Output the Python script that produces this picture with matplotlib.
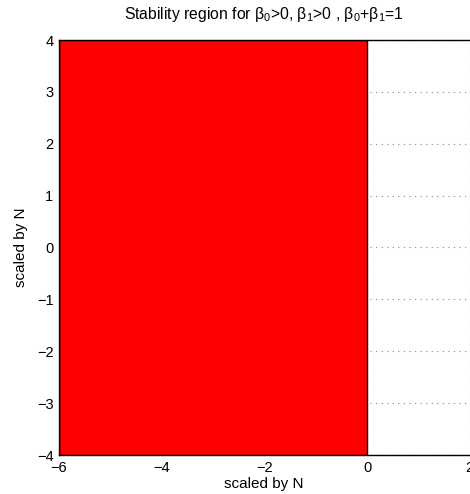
import matplotlib
matplotlib.use("Agg")
import matplotlib.pyplot as plt

plt.rcParams['font.family'] = ['Liberation Sans', 'DejaVu Sans']
plt.rcParams['mathtext.fontset'] = 'custom'
plt.rcParams['mathtext.rm'] = 'Liberation Sans'
plt.rcParams['mathtext.it'] = 'Liberation Sans'
plt.rcParams['mathtext.default'] = 'rm'

# Data
region_x = [-6, 0, 0, -6]
region_y = [-4, -4, 4, 4]
x_ticks = [-6, -4, -2, 0, 2, 4]
y_ticks = [-4, -3, -2, -1, 0, 1, 2, 3, 4]
title = r'Stability region for $\beta_0$>0, $\beta_1$>0 , $\beta_0$+$\beta_1$=1'
xlabel = 'scaled by N'
ylabel = 'scaled by N'

W, H = 470, 494
fig = plt.figure(figsize=(W / 100, H / 100), dpi=100)
left, top, bottom = 59, 40, 455
ppu = (367 - 59) / 6.0
xmax = 4
right = 59 + ppu * (xmax + 6)
ax = fig.add_axes([left / W, (H - bottom) / H, (right - left) / W, (bottom - top) / H])

ax.fill(region_x, region_y, facecolor='#ff0000', edgecolor='black', linewidth=1.0, zorder=2)
ax.set_xlim(-6, xmax)
ax.set_ylim(-4, 4)
ax.set_xticks(x_ticks)
ax.set_yticks(y_ticks)
ax.set_xticklabels([str(v).replace('-', '\u2212') for v in x_ticks])
ax.set_yticklabels([str(v).replace('-', '\u2212') for v in y_ticks])
ax.grid(True, linestyle=(0, (1, 4)), color='#888888', linewidth=0.8, zorder=1)
ax.set_axisbelow(True)
ax.tick_params(direction='in', length=4, labelsize=10.5, width=0.6, top=True, right=True)
ax.tick_params(axis='x', pad=4.5)
ax.tick_params(axis='y', pad=4)
for s in ax.spines.values():
    s.set_linewidth(1.0)
    s.set_zorder(3)

fig.text(264 / W, 1 - 15 / H, title, fontsize=11.3, ha='center', va='center')
fig.text(264 / W, 1 - 484 / H, xlabel, fontsize=11, ha='center', va='center')
fig.text(21 / W, 1 - 247 / H, ylabel, fontsize=11, ha='center', va='center', rotation=90)

fig.savefig('out.png', dpi=100)
